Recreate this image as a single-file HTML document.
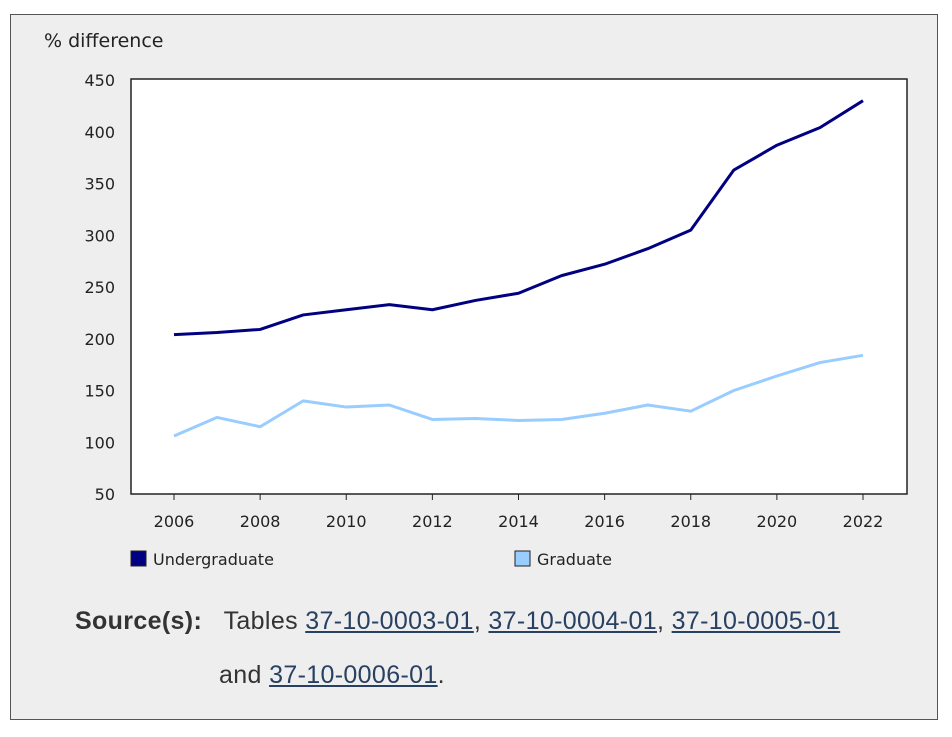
<!DOCTYPE html>
<html><head><meta charset="utf-8"><style>
body{margin:0;background:#fff;width:952px;height:737px;overflow:hidden;font-family:"DejaVu Sans","Liberation Sans",sans-serif}
#frame{position:absolute;left:10px;top:14px;width:926px;height:704px;background:#eeeeee;border:1px solid #555}
.src{position:absolute;font-family:"Liberation Sans","DejaVu Sans",sans-serif;font-size:25px;letter-spacing:0.35px;color:#333;white-space:nowrap}
.src a{color:#284162;text-decoration:underline}
</style></head><body>
<div id="frame"></div>
<svg id="chart" width="952" height="737" style="position:absolute;left:0;top:0"></svg>
<div class="src" style="left:75px;top:607px"><b>Source(s):</b>&nbsp;&nbsp; Tables <a>37-10-0003-01</a>, <a>37-10-0004-01</a>, <a>37-10-0005-01</a></div>
<div class="src" style="left:219px;top:661px">and <a>37-10-0006-01</a>.</div>
<script>
const years=[2006,2007,2008,2009,2010,2011,2012,2013,2014,2015,2016,2017,2018,2019,2020,2021,2022];
const undergrad=[204,206,209,223,228,233,228,237,244,261,272,287,305,363,387,404,430];
const graduate=[106,124,115,140,134,136,122,123,121,122,128,136,130,150,164,177,184];
const yTicks=[50,100,150,200,250,300,350,400,450];
const xTicks=[2006,2008,2010,2012,2014,2016,2018,2020,2022];
const NS="http://www.w3.org/2000/svg";
const svg=document.getElementById('chart');
const X=v=>174+(v-2006)*(863-174)/16;
const Y=v=>494-(v-50)*414/400;
function mk(t,a){const e=document.createElementNS(NS,t);for(const k in a)e.setAttribute(k,a[k]);svg.appendChild(e);return e;}
const plot=mk('rect',{x:131,y:79,width:776,height:415,fill:'#fff',stroke:'#222','stroke-width':1.5});


const yt=mk('text',{x:44,y:47,'font-size':19,fill:'#222'});yt.textContent='% difference';


yTicks.forEach(v=>{const t=mk('text',{x:115,y:Y(v)+6,'font-size':16,'text-anchor':'end',fill:'#222'});t.textContent=v;

});
xTicks.forEach(v=>{mk('line',{x1:X(v),x2:X(v),y1:494,y2:500,stroke:'#222'});const t=mk('text',{x:X(v),y:527,'font-size':16,'text-anchor':'middle',fill:'#222'});t.textContent=v;

});
function line(d,c,n){const p=mk('polyline',{points:d.map((v,i)=>X(years[i])+','+Y(v)).join(' '),fill:'none',stroke:c,'stroke-width':3,'stroke-linejoin':'round'});

}
line(undergrad,'#000080','undergraduate-line');
line(graduate,'#99ccff','graduate-line');
[[131,'#000080','Undergraduate'],[515,'#99ccff','Graduate']].forEach(([x,c,l],i)=>{
const r=mk('rect',{x:x,y:551,width:15,height:15,fill:c,stroke:'#222'});


const t=mk('text',{x:x+22,y:565,'font-size':16,fill:'#222'});t.textContent=l;

});
</script>
</body></html>
